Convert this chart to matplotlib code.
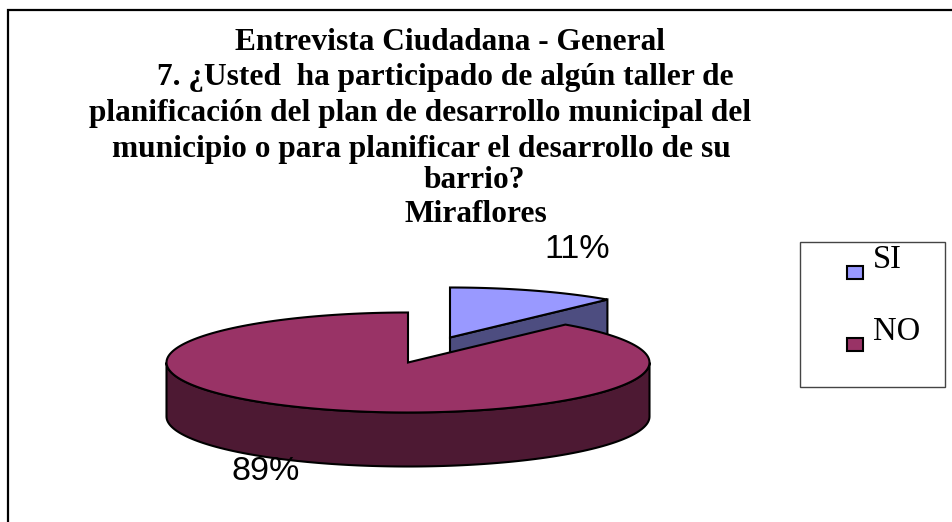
import numpy as np
import matplotlib
matplotlib.use('Agg')
import matplotlib.pyplot as plt
from matplotlib.patches import Polygon, Rectangle

categories = ['SI', 'NO']
values = [11.3, 88.7]
labels = ['11%', '89%']
colors = ['#9999FF', '#993366']
side_colors = ['#4D4D80', '#4D1933']
title_lines = ['Entrevista Ciudadana - General',
               '7. ¿Usted  ha participado de algún taller de',
               'planificación del plan de desarrollo municipal del',
               'municipio o para planificar el desarrollo de su',
               'barrio?',
               'Miraflores']
title_x = [450, 445, 420, 421, 474, 476]
title_y = [43, 77, 114, 150, 181, 215]

# geometria del pastel en pixeles
cx, cy = 408, 362.5
rx, ry = 241.5, 50
depth = 54
explode = (42, -25)

def rim(a1, a2, dx=0, dy=0):
    # angulos en grados, horario desde las 12
    t = np.radians(np.linspace(a1, a2, 200))
    return np.c_[cx + dx + rx*np.sin(t), cy + dy - ry*np.cos(t)]

fig = plt.figure(figsize=(9.53, 5.22), dpi=100)
ax = fig.add_axes([0, 0, 1, 1])
ax.set_xlim(0, 953)
ax.set_ylim(522, 0)
ax.axis('off')

ax.add_patch(Rectangle((8, 10), 1000, 1000, fc='white', ec='black', lw=1.6))

ang = 360*np.array(values)/sum(values)

# SI
top = rim(0, ang[0], *explode)
apex = np.array([cx+explode[0], cy+explode[1]])
face = np.array([apex, top[-1], top[-1]+[0, depth], apex+[0, depth]])
ax.add_patch(Polygon(face, fc=side_colors[0], ec='black', lw=1.5, zorder=2))
ax.add_patch(Polygon(np.vstack([apex, top]), fc=colors[0], ec='black', lw=1.5, zorder=3))

# NO
top = rim(ang[0], 360)
lower = rim(90, 270)
wall = np.vstack([lower, (lower+[0, depth])[::-1]])
ax.add_patch(Polygon(wall, fc=side_colors[1], ec='black', lw=1.5, zorder=4))
ax.add_patch(Polygon(np.vstack([[cx, cy], top]), fc=colors[1], ec='black', lw=1.5, zorder=5))

ax.text(577, 250, labels[0], family='Liberation Sans', fontsize=24.5, ha='center', va='center', color='black', zorder=6)
ax.text(266, 472, labels[1], family='Liberation Sans', fontsize=24.5, ha='center', va='center', color='black', zorder=6)

for s, x, y in zip(title_lines, title_x, title_y):
    ax.text(x, y, s, family='Liberation Serif', weight='bold', fontsize=22.6, ha='center', va='center', color='black')

# leyenda
ax.add_patch(Rectangle((800, 242), 145, 145, fc='white', ec='#444444', lw=1))
for i, (c, name) in enumerate(zip(colors, categories)):
    y = 272.7 + i*71.5
    ax.add_patch(Rectangle((847.5, y-6.5), 15.5, 13, fc=c, ec='black', lw=1.5))
    ax.text(873, y-12.5, name, family='Liberation Serif', fontsize=23.5, ha='left', va='center', color='black')

fig.savefig('out.png', dpi=100)
